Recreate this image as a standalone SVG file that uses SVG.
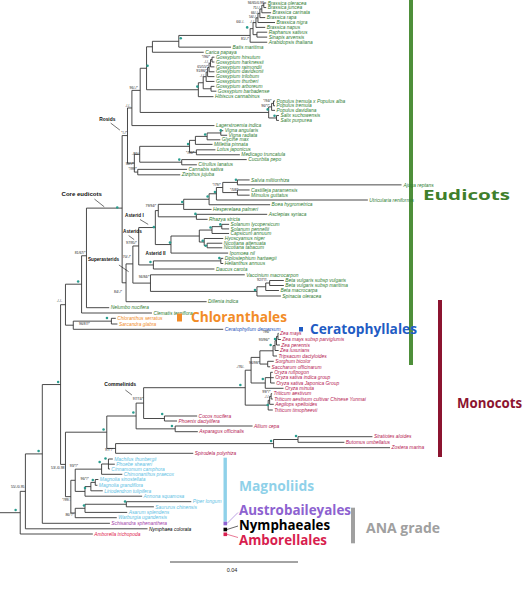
<svg xmlns="http://www.w3.org/2000/svg" width="532" height="600" viewBox="0 0 532 600">
<style>
.t{font-family:"Liberation Sans",Arial,sans-serif;font-style:italic;font-size:5px}
.e{fill:#2f7d32}.c{fill:#f08c2a}.cp{fill:#2453b8}.m{fill:#b52152}.mg{fill:#5ec1e4}.au{fill:#a23ea8}.ny{fill:#000}.am{fill:#e0224c}
.bs{font-family:"Liberation Sans",Arial,sans-serif;font-size:3.5px;fill:#222;text-anchor:end}
.cl{font-family:"Liberation Sans",Arial,sans-serif;font-weight:bold;fill:#111}
.big{font-family:"Open Sans","Liberation Sans",Arial,sans-serif;font-weight:bold;font-size:14px}
.tree path{fill:none;stroke:#333;stroke-width:0.9}
.dot{fill:#2a9d8f}
.arr{stroke:#111;stroke-width:0.6}
</style>
<rect width="532" height="600" fill="#fff"/>
<g id="clade-eudicots"><rect x="409" y="0" width="4" height="365" fill="#4e8f3a"/><text class="big" x="423" y="200" fill="#3f7f2c" font-size="16" textLength="87" lengthAdjust="spacingAndGlyphs">Eudicots</text></g>
<g id="tree" transform="scale(0.977,1)">
<g id="connectors" class="tree">
<path d="M270,3.01V7.57M270,3.01H272.5M270,7.57H272.5M268,5.29V12.77M268,5.29H270M268,12.77H277.5M266,9.03V17.6M266,9.03H268M266,17.6H271.5M264,13.32V22.53M264,13.32H266M264,22.53H281.5M262,17.92V27.36M262,17.92H264M262,27.36H271.5M263,32.19V37.12M263,32.19H273.5M263,37.12H273.5M259,22.62V34.66M259,22.62H262M259,34.66H263M256,28.64V42.23M256,28.64H259M256,42.23H273.5M183,35.43V47.15M183,35.43H256M183,47.15H236.5M156,41.31V52.26M156,41.31H183M156,52.26H208.5"/>
<path d="M217,57.18V62.02M217,57.18H219.5M217,62.02H219.5M215.5,59.6V66.85M215.5,59.6H217M215.5,66.85H219.5M214,63.2V71.77M214,63.2H215.5M214,71.77H219.5M212.5,67.49V76.61M212.5,67.49H214M212.5,76.61H219.5M211,72.05V81.44M211,72.05H212.5M211,81.44H219.5M216,86.37V91.2M216,86.37H219.5M216,91.2H221.5M208,76.74V88.78M208,76.74H211M208,88.78H216M203,82.76V96.67M203,82.76H208M203,96.67H218.5M150,46.79V89.74M150,46.79H156M150,89.74H203"/>
<path d="M280,100.96V105.79M280,100.96H281.5M280,105.79H281.5M278,103.37V110.35M278,103.37H280M278,110.35H281.5M283,115.55V120.38M283,115.55H285.5M283,120.38H285.5M275,106.89V117.97M275,106.89H278M275,117.97H283M143.5,68.26V112.45M143.5,68.26H150M143.5,112.45H275M135,90.38V125.58M135,90.38H143.5M135,125.58H219.5"/>
<path d="M226,130.69V135.25M226,130.69H228.5M226,135.25H232.5M212,132.97V139.81M212,132.97H226M212,139.81H225.5M200,136.39V144.37M200,136.39H212M200,144.37H217.5M201,149.84V154.77M201,149.84H220.5M201,154.77H245.5M194,140.36V152.3M194,140.36H200M194,152.3H201M186,159.6V164.8M186,159.6H252.5M186,164.8H201.5M143,146.33V162.2M143,146.33H194M143,162.2H186M141,169.36V174.83M141,169.36H191.5M141,174.83H184.5M137.5,154.26V172.09M137.5,154.26H143M137.5,172.09H141M130.5,107.98V163.16M130.5,107.98H135M130.5,163.16H137.5"/>
<path d="M243,179.94V184.86M243,179.94H255.5M243,184.86H411M243,189.97V195.17M243,189.97H255.5M243,195.17H255.5M228,182.4V192.57M228,182.4H243M228,192.57H243M221.5,187.51V200M221.5,187.51H228M221.5,200H376.5M214,193.75V204.74M214,193.75H221.5M214,204.74H276.5M188,199.27V209.4M188,199.27H214M188,209.4H216.5M201,214.32V219.34M201,214.32H273.5M201,219.34H212.5M162,204.33V216.82M162,204.33H188M162,216.82H201"/>
<path d="M227,224.35V228.91M227,224.35H234.5M227,228.91H234.5M217,226.63V233.47M217,226.63H227M217,233.47H234.5M212,243.23V247.79M212,243.23H227.5M212,247.79H227.5M209,238.49V245.51M209,238.49H228.5M209,245.51H212M204,230.05V242M204,230.05H217M204,242H209M175,236.03V253.08M175,236.03H204M175,253.08H233.5M159,210.58V244.55M159,210.58H162M159,244.55H175"/>
<path d="M226,258.37V263.5M226,258.37H228.5M226,263.5H228.5M157,260.9V269M157,260.9H226M157,269H219.5M142,227.54V264.95M142,227.54H159M142,264.95H157M276,280.5V285.5M276,280.5H290.5M276,285.5H290.5M272,283V290.5M272,283H276M272,290.5H285.5M263,286.75V296M263,286.75H272M263,296H287.5M154,274.8V291.4M154,274.8H250.5M154,291.4H263M136,245.97V283.1M136,245.97H142M136,283.1H154M129,263.9V301.7M129,263.9H136M129,301.7H211.5M125,135.57V282.8M125,135.57H130.5M125,282.8H129M88.5,208.12V307.7M88.5,208.12H125M88.5,307.7H111.8M83.5,255.77V313M83.5,255.77H88.5M83.5,313H155.5M114,318.3V324M114,318.3H118.5M114,324H120.2M75,321.15V329.3M75,321.15H114M75,329.3H228.5M67,284.2V325.2M67,284.2H83.5M67,325.2H75"/>
<g transform="translate(0,-25)">
<path d="M284.5,358.3V364.5M284.5,358.3H285.2M284.5,364.5H287.5M283,361.4V370M283,361.4H284.5M283,370H286.5M281.5,365.7V375.5M281.5,365.7H283M281.5,375.5H285.2M279.5,370.6V381M279.5,370.6H281.5M279.5,381H283.5M274,386.3V391.8M274,386.3H280.2M274,391.8H276.5M266,375.8V389.05M266,375.8H279.5M266,389.05H274M277,397.3V408M277,397.3H279.2M277,402.7H280.2M277,408H281.2M271.5,402.65V413.3M271.5,402.65H277M271.5,413.3H290.2M257,382.4V408M257,382.4H266M257,408H271.5M277.5,418.7V424M277.5,418.7H278.5M277.5,424H279.2M276,421.35V429.3M276,421.35H277.5M276,429.3H280.2M274.5,425.3V435M274.5,425.3H276M274.5,435H279.2M251,395.2V430.15M251,395.2H257M251,430.15H274.5"/>
<path d="M168.3,441V446M168.3,441H201.8M168.3,446H181.2M147,412.7V443.5M147,412.7H251M147,443.5H168.3M179.3,451V456.7M179.3,451H258.5M179.3,456.7H202.5M139.3,428.1V453.85M139.3,428.1H147M139.3,453.85H179.3M305,461.7V467.3M305,461.7H381.2M305,467.3H352.5M280,464.5V472.7M280,464.5H305M280,472.7H399.2M118.3,468.6V478.3M118.3,468.6H280M118.3,478.3H197.8M109.3,441V473.45M109.3,441H139.3M109.3,473.45H118.3"/>
<path d="M111,484V494M111,484H115.5M111,489.2H117.5M111,494H112.5M104,489V499.3M104,489H111M104,499.3H125.2M97.5,504.5V510.3M97.5,504.5H100.7M97.5,510.3H99.7M93,507.4V515.8M93,507.4H97.5M93,515.8H105.2M87,511.6V521.2M87,511.6H93M87,521.2H145.5M77,494.15V516.4M77,494.15H104M77,516.4H87M129.3,526.7V531.8M129.3,526.7H195.8M129.3,531.8H157.5M87,529.25V537.4M87,529.25H129.3M87,537.4H130.2M77,533.3V542.7M77,533.3H87M77,542.7H119.5M72.5,505.3V538M72.5,505.3H77M72.5,538H77M67,457.2V521.65M67,457.2H109.3M67,521.65H72.5"/>
<path d="M62,329.7V489.4M62,329.7H67M62,489.4H67M43.3,409.55V548.3M43.3,409.55H62M43.3,548.3H112.5M26,478.9V553.8M26,478.9H43.3M26,553.8H151M20.7,516.35V559M20.7,516.35H26M20.7,559H95M0,537.7H20.7"/>
</g>
</g>
<g id="support-dots">
<circle class="dot" cx="185" cy="38.3" r="1.3"/><circle class="dot" cx="253" cy="27.4" r="1.3"/><circle class="dot" cx="151" cy="65.7" r="1.3"/><circle class="dot" cx="202" cy="86.6" r="1.3"/><circle class="dot" cx="274" cy="109.4" r="1.3"/><circle class="dot" cx="281" cy="115.8" r="1.3"/><circle class="dot" cx="226" cy="130.4" r="1.3"/><circle class="dot" cx="210" cy="134.5" r="1.3"/><circle class="dot" cx="192.5" cy="144.1" r="1.3"/><circle class="dot" cx="183.5" cy="159.6" r="1.3"/><circle class="dot" cx="120" cy="207.5" r="1.3"/><circle class="dot" cx="241.5" cy="179.7" r="1.3"/><circle class="dot" cx="220" cy="192" r="1.3"/><circle class="dot" cx="212.5" cy="196.5" r="1.3"/><circle class="dot" cx="186.5" cy="202" r="1.3"/><circle class="dot" cx="200" cy="213.9" r="1.3"/><circle class="dot" cx="157.5" cy="227.1" r="1.3"/><circle class="dot" cx="225.5" cy="224.4" r="1.3"/><circle class="dot" cx="215.5" cy="227.5" r="1.3"/><circle class="dot" cx="207.5" cy="240.8" r="1.3"/><circle class="dot" cx="210.5" cy="245.8" r="1.3"/><circle class="dot" cx="174" cy="242.6" r="1.3"/><circle class="dot" cx="224.5" cy="258.1" r="1.3"/><circle class="dot" cx="154" cy="262" r="1.3"/>
<g transform="translate(0,-25)">
<circle class="dot" cx="261" cy="315" r="1.3"/><circle class="dot" cx="80" cy="306.5" r="1.3"/><circle class="dot" cx="109.5" cy="343" r="1.3"/><circle class="dot" cx="59.5" cy="407" r="1.3"/><circle class="dot" cx="106" cy="454.5" r="1.3"/><circle class="dot" cx="136.5" cy="437.5" r="1.3"/><circle class="dot" cx="166" cy="439" r="1.3"/><circle class="dot" cx="176" cy="451" r="1.3"/><circle class="dot" cx="246" cy="410" r="1.3"/><circle class="dot" cx="269" cy="404" r="1.3"/><circle class="dot" cx="277" cy="370" r="1.3"/><circle class="dot" cx="281.5" cy="364" r="1.3"/><circle class="dot" cx="274" cy="430" r="1.3"/><circle class="dot" cx="277.5" cy="466" r="1.3"/><circle class="dot" cx="303" cy="461" r="1.3"/><circle class="dot" cx="108" cy="483.5" r="1.3"/><circle class="dot" cx="102" cy="487" r="1.3"/><circle class="dot" cx="95" cy="505" r="1.3"/><circle class="dot" cx="87" cy="513" r="1.3"/><circle class="dot" cx="86" cy="530.5" r="1.3"/><circle class="dot" cx="128" cy="526.5" r="1.3"/><circle class="dot" cx="39.5" cy="476" r="1.3"/><circle class="dot" cx="16" cy="535" r="1.3"/>
</g>
</g>
<g id="support-values">
<text class="bs" x="270" y="4.1">94/65/0.98</text><text class="bs" x="267" y="8.7">71/-/-</text><text class="bs" x="265" y="13.7">66/-/-</text><text class="bs" x="263" y="18.2">56/-/-</text><text class="bs" x="250" y="23.3">66/-/-</text><text class="bs" x="261" y="23.3">-/-/-</text><text class="bs" x="255" y="40.1">81/-/*</text>
<text class="bs" x="215" y="57.9">*/96/*</text><text class="bs" x="214" y="62.9">-/-/-</text><text class="bs" x="213" y="67.9">65/55/*</text><text class="bs" x="212" y="72.5">91/86/*</text><text class="bs" x="210" y="77.5">-/-/-</text>
<text class="bs" x="278" y="101.7">*/94/*</text><text class="bs" x="276" y="106.7">96/*/*</text><text class="bs" x="141" y="88.9">96/-/*</text><text class="bs" x="133.5" y="106.7">-/-/-</text><text class="bs" x="130" y="134.1">*/-/*</text>
<text class="bs" x="143" y="155">-/81/-</text><text class="bs" x="137" y="165.5">90/-/*</text><text class="bs" x="140" y="170.5">*/99/*</text><text class="bs" x="199" y="153.7">*/96/*</text>
<text class="bs" x="226" y="185.6">*/79/*</text><text class="bs" x="244" y="191.5">*/58/*</text><text class="bs" x="160" y="207">79/94/*</text><text class="bs" x="140" y="244">97/95/*</text><text class="bs" x="134" y="258.1">70/-/*</text><text class="bs" x="87.5" y="254">81/67/*</text>
<g transform="translate(0,-25)">
<text class="bs" x="153" y="303.5">94/84/*</text><text class="bs" x="125" y="318.5">84/-/*</text><text class="bs" x="63.5" y="327">-/-/-</text><text class="bs" x="92" y="350">96/87/*</text><text class="bs" x="274" y="306">92/77/-</text>
<text class="bs" x="277" y="358.5">*/96/*</text><text class="bs" x="276" y="366">93/96/*</text><text class="bs" x="250" y="393.5">-/76/-</text><text class="bs" x="266" y="389">96/98/*</text><text class="bs" x="277" y="418">99/*/*</text><text class="bs" x="276" y="423">-/-/-</text>
<text class="bs" x="147" y="425">97/74/*</text><text class="bs" x="116" y="476">97/*/*</text><text class="bs" x="66" y="494">53/-/0.98</text><text class="bs" x="80" y="492.5">93/*/*</text><text class="bs" x="91" y="505">96/*/*</text><text class="bs" x="72" y="526">*/99/-</text><text class="bs" x="75.5" y="541">86/*/*</text><text class="bs" x="25" y="513.5">55/-/0.95</text>
</g>
</g>
<g id="clade-labels">
<text class="cl" x="101.5" y="120.8" font-size="5">Rosids</text><path class="arr" d="M113.3,123.1L122.7,130.1"/>
<text class="cl" x="63" y="196.5" font-size="6.2">Core eudicots</text><path class="arr" d="M96.7,199.1L106.7,206.8"/>
<text class="cl" x="128" y="217.5" font-size="4.8">Asterid I</text><path class="arr" d="M143.3,219.5L151.7,224.4"/>
<text class="cl" x="126" y="232.6" font-size="4.8">Asterids</text><path class="arr" d="M131.7,235.6L137.3,239.6"/>
<text class="cl" x="149" y="255.4" font-size="4.8">Asterid II</text>
<text class="cl" x="90" y="261" font-size="4.8">Superasterids</text><path class="arr" d="M121.7,265L131.7,271.7"/>
<text class="cl" x="106.7" y="386" font-size="5.2">Commelinids</text><path class="arr" d="M128.3,390L135,395"/>
</g>
<g id="leaves">
<g id="l1"><text class="t e" x="274" y="4.7">Brassica oleracea</text></g>
<g id="l2"><text class="t e" x="274" y="9.3">Brassica juncea</text></g>
<g id="l3"><text class="t e" x="279" y="14.5">Brassica carinata</text></g>
<g id="l4"><text class="t e" x="273" y="19.3">Brassica rapa</text></g>
<g id="l5"><text class="t e" x="283" y="24.2">Brassica nigra</text></g>
<g id="l6"><text class="t e" x="273" y="29.1">Brassica napus</text></g>
<g id="l7"><text class="t e" x="275" y="33.9">Raphanus sativus</text></g>
<g id="l8"><text class="t e" x="275" y="38.8">Sinapis arvensis</text></g>
<g id="l9"><text class="t e" x="275" y="43.9">Arabidopsis thaliana</text></g>
<g id="l10"><text class="t e" x="238" y="48.9">Batis maritima</text></g>
<g id="l11"><text class="t e" x="210" y="54">Carica papaya</text></g>
<g id="l12"><text class="t e" x="221" y="58.9">Gossypium hirsutum</text></g>
<g id="l13"><text class="t e" x="221" y="63.7">Gossypium harknessii</text></g>
<g id="l14"><text class="t e" x="221" y="68.6">Gossypium raimondii</text></g>
<g id="l15"><text class="t e" x="221" y="73.5">Gossypium davidsonii</text></g>
<g id="l16"><text class="t e" x="221" y="78.3">Gossypium trilobum</text></g>
<g id="l17"><text class="t e" x="221" y="83.1">Gossypium thurberi</text></g>
<g id="l18"><text class="t e" x="221" y="88.1">Gossypium arboreum</text></g>
<g id="l19"><text class="t e" x="223" y="92.9">Gossypium barbadense</text></g>
<g id="l20"><text class="t e" x="220" y="98.4">Hibiscus cannabinus</text></g>
<g id="l21"><text class="t e" x="283" y="102.7">Populus tremula x Populus alba</text></g>
<g id="l22"><text class="t e" x="283" y="107.5">Populus tremula</text></g>
<g id="l23"><text class="t e" x="283" y="112.1">Populus davidiana</text></g>
<g id="l24"><text class="t e" x="287" y="117.3">Salix suchowensis</text></g>
<g id="l25"><text class="t e" x="287" y="122.1">Salix purpurea</text></g>
<g id="l26"><text class="t e" x="221" y="127.3">Lagerstroemia indica</text></g>
<g id="l27"><text class="t e" x="230" y="132.4">Vigna angularis</text></g>
<g id="l28"><text class="t e" x="234" y="137">Vigna radiata</text></g>
<g id="l29"><text class="t e" x="227" y="141.5">Glycine max</text></g>
<g id="l30"><text class="t e" x="219" y="146.1">Millettia pinnata</text></g>
<g id="l31"><text class="t e" x="222" y="151.5">Lotus japonicus</text></g>
<g id="l32"><text class="t e" x="247" y="156.5">Medicago truncatula</text></g>
<g id="l33"><text class="t e" x="254" y="161.3">Cucurbita pepo</text></g>
<g id="l34"><text class="t e" x="203" y="166.5">Citrullus lanatus</text></g>
<g id="l35"><text class="t e" x="193" y="171.1">Cannabis sativa</text></g>
<g id="l36"><text class="t e" x="186" y="176.5">Ziziphus jujuba</text></g>
<g id="l37"><text class="t e" x="257" y="181.6">Salvia miltiorrhiza</text></g>
<g id="l38"><text class="t e" x="413" y="186.6">Ajuga reptans</text></g>
<g id="l39"><text class="t e" x="257" y="191.7">Castilleja paramensis</text></g>
<g id="l40"><text class="t e" x="257" y="196.9">Mimulus guttatus</text></g>
<g id="l41"><text class="t e" x="378" y="201.7">Utricularia reniformis</text></g>
<g id="l42"><text class="t e" x="278" y="206.4">Boea hygrometrica</text></g>
<g id="l43"><text class="t e" x="218" y="211.1">Hesperelaea palmeri</text></g>
<g id="l44"><text class="t e" x="275" y="216">Asclepias syriaca</text></g>
<g id="l45"><text class="t e" x="214" y="221">Rhazya stricta</text></g>
<g id="l46"><text class="t e" x="236" y="226.1">Solanum lycopersicum</text></g>
<g id="l47"><text class="t e" x="236" y="230.6">Solanum pennellii</text></g>
<g id="l48"><text class="t e" x="236" y="235.2">Capsicum annuum</text></g>
<g id="l49"><text class="t e" x="230" y="240.2">Hyoscyamus niger</text></g>
<g id="l50"><text class="t e" x="229" y="244.9">Nicotiana attenuata</text></g>
<g id="l51"><text class="t e" x="229" y="249.5">Nicotiana tabacum</text></g>
<g id="l52"><text class="t e" x="235" y="254.8">Ipomoea nil</text></g>
<g id="l53"><text class="t e" x="230" y="260.1">Diplostephium hartwegii</text></g>
<g transform="translate(0,-25)">
<g id="l54"><text class="t e" x="230" y="290.3">Helianthus annuus</text></g>
<g id="l55"><text class="t e" x="221" y="295.8">Daucus carota</text></g>
<g id="l56"><text class="t e" x="252" y="301.6">Vaccinium macrocarpon</text></g>
<g id="l57"><text class="t e" x="292" y="307.3">Beta vulgaris subsp vulgaris</text></g>
<g id="l58"><text class="t e" x="292" y="312.3">Beta vulgaris subsp maritima</text></g>
<g id="l59"><text class="t e" x="287" y="317.3">Beta macrocarpa</text></g>
<g id="l60"><text class="t e" x="289" y="322.8">Spinacia oleracea</text></g>
<g id="l61"><text class="t e" x="213" y="328.5">Dillenia indica</text></g>
<g id="l62"><text class="t e" x="113.3" y="334.5">Nelumbo nucifera</text></g>
<g id="l63"><text class="t e" x="157" y="339.8">Clematis terniflora</text></g>
<g id="l64"><text class="t c" x="120" y="345.1">Chloranthus serratus</text></g>
<g id="l65"><text class="t c" x="121.7" y="350.8">Sarcandra glabra</text></g>
<g id="l66"><text class="t cp" x="230" y="356.1">Ceratophyllum demersum</text></g>
<g id="l67"><text class="t m" x="286.7" y="360.1">Zea mays</text></g>
<g id="l68"><text class="t m" x="289" y="366.3">Zea mays subsp parviglumis</text></g>
<g id="l69"><text class="t m" x="288" y="371.8">Zea perennis</text></g>
<g id="l70"><text class="t m" x="286.7" y="377.3">Zea luxurians</text></g>
<g id="l71"><text class="t m" x="285" y="382.8">Tripsacum dactyloides</text></g>
<g id="l72"><text class="t m" x="281.7" y="388.1">Sorghum bicolor</text></g>
<g id="l73"><text class="t m" x="278" y="393.6">Saccharum officinarum</text></g>
<g id="l74"><text class="t m" x="280.7" y="399.1">Oryza rufipogon</text></g>
<g id="l75"><text class="t m" x="281.7" y="404.5">Oryza sativa indica group</text></g>
<g id="l76"><text class="t m" x="282.7" y="409.8">Oryza sativa Japonica Group</text></g>
<g id="l77"><text class="t m" x="291.7" y="415.1">Oryza minuta</text></g>
<g id="l78"><text class="t m" x="280" y="420.5">Triticum aestivum</text></g>
<g id="l79"><text class="t m" x="280.7" y="425.8">Triticum aestivum cultivar Chinese Yunmai</text></g>
<g id="l80"><text class="t m" x="281.7" y="431.1">Aegilops speltoides</text></g>
<g id="l81"><text class="t m" x="280.7" y="436.8">Triticum timopheevii</text></g>
<g id="l82"><text class="t m" x="203.3" y="442.8">Cocos nucifera</text></g>
<g id="l83"><text class="t m" x="182.7" y="447.8">Phoenix dactylifera</text></g>
<g id="l84"><text class="t m" x="260" y="452.8">Allium cepa</text></g>
<g id="l85"><text class="t m" x="204" y="458.5">Asparagus officinalis</text></g>
<g id="l86"><text class="t m" x="382.7" y="463.5">Stratiotes aloides</text></g>
<g id="l87"><text class="t m" x="354" y="469.1">Butomus umbellatus</text></g>
<g id="l88"><text class="t m" x="400.7" y="474.5">Zostera marina</text></g>
<g id="l89"><text class="t m" x="199.3" y="480.1">Spirodela polyrhiza</text></g>
<g id="l90"><text class="t mg" x="117" y="485.8">Machilus thunbergii</text></g>
<g id="l91"><text class="t mg" x="119" y="491">Phoebe sheareri</text></g>
<g id="l92"><text class="t mg" x="114" y="495.8">Cinnamomum camphora</text></g>
<g id="l93"><text class="t mg" x="126.7" y="501.1">Chimonanthus praecox</text></g>
<g id="l94"><text class="t mg" x="102.2" y="506.3">Magnolia sinostellata</text></g>
<g id="l95"><text class="t mg" x="101.2" y="512.1">Magnolia grandiflora</text></g>
<g id="l96"><text class="t mg" x="106.7" y="517.6">Liriodendron tulipifera</text></g>
<g id="l97"><text class="t mg" x="147" y="523">Annona squamosa</text></g>
<g id="l98"><text class="t mg" x="197.3" y="528.5">Piper longum</text></g>
<g id="l99"><text class="t mg" x="159" y="533.6">Saururus chinensis</text></g>
<g id="l100"><text class="t mg" x="131.7" y="539.2">Asarum splendens</text></g>
<g id="l101"><text class="t mg" x="121" y="544.5">Warburgia ugandensis</text></g>
<g id="l102"><text class="t au" x="114" y="550.1">Schisandra sphenanthera</text></g>
<g id="l103"><text class="t ny" x="152.5" y="555.6">Nymphaea colorata</text></g>
<g id="l104"><text class="t am" x="96.5" y="560.8">Amborella trichopoda</text></g>
</g>
</g>
</g>
<g id="clade-chloranthales"><rect x="177" y="313.5" width="5" height="8" fill="#f28c28"/><text class="big" x="191" y="322" fill="#f28c28" textLength="96" lengthAdjust="spacingAndGlyphs">Chloranthales</text></g>
<g id="clade-ceratophyllales"><rect x="299" y="327" width="4" height="4.5" fill="#1f5cc4"/><text class="big" x="310" y="334" fill="#1f5cc4" textLength="107" lengthAdjust="spacingAndGlyphs">Ceratophyllales</text></g>
<g id="clade-monocots"><rect x="438" y="300" width="4" height="157" fill="#8c1430"/><text class="big" x="457" y="408" fill="#8c1430" textLength="65" lengthAdjust="spacingAndGlyphs">Monocots</text></g>
<g id="clade-magnoliids"><rect x="223.5" y="457.7" width="3.4" height="64" fill="#8fd1e9"/><text class="big" x="239" y="491" fill="#8fd1e9" textLength="75" lengthAdjust="spacingAndGlyphs">Magnoliids</text></g>
<g id="clade-austrobaileyales"><rect x="223.5" y="521.7" width="3.6" height="3.6" fill="#8d62d0"/><path d="M227,523.5L238,512.5" stroke="#8d62d0" stroke-width="0.6"/><text class="big" x="239" y="515" fill="#8d62d0" font-size="13.5" textLength="112" lengthAdjust="spacingAndGlyphs">Austrobaileyales</text></g>
<g id="clade-nymphaeales"><rect x="223.5" y="527.7" width="3.6" height="3.6" fill="#000"/><path d="M227,529.5L238,526" stroke="#000" stroke-width="0.6"/><text class="big" x="239" y="530" fill="#000" font-size="13.5" textLength="91" lengthAdjust="spacingAndGlyphs">Nymphaeales</text></g>
<g id="clade-amborellales"><rect x="223.5" y="532.5" width="3.6" height="3.6" fill="#d81e4f"/><path d="M227,534.3L238,537.5" stroke="#d81e4f" stroke-width="0.6"/><text class="big" x="239" y="545" fill="#d81e4f" font-size="13.5" textLength="88" lengthAdjust="spacingAndGlyphs">Amborellales</text></g>
<g id="clade-ana"><rect x="351" y="507.7" width="4" height="35.6" fill="#a0a0a0"/><text class="big" x="366" y="532.7" fill="#a0a0a0" textLength="74" lengthAdjust="spacingAndGlyphs">ANA grade</text></g>
<g id="scale"><path d="M170,562H298" stroke="#333" stroke-width="0.9"/><text x="232" y="572" font-family="Liberation Sans,Arial,sans-serif" font-size="5.5" fill="#222" text-anchor="middle">0.04</text></g>
</svg>
